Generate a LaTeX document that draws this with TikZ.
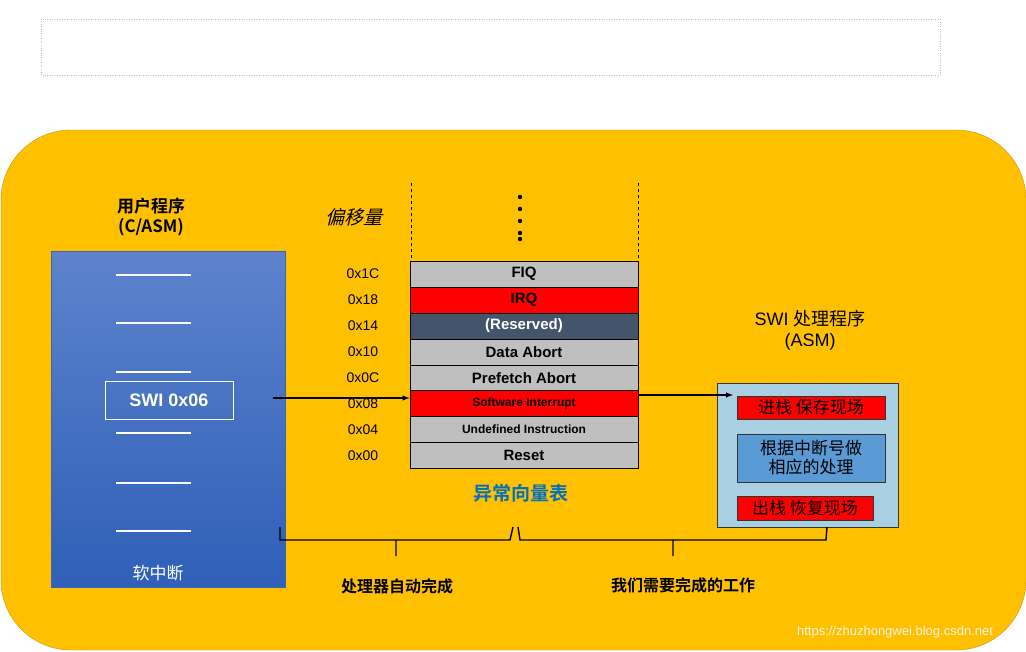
\documentclass[tikz,border=0pt]{standalone}
\usepackage{fontspec}
\setmainfont{Liberation Sans}
\newfontfamily\cjk{Noto Sans CJK SC}
\newfontfamily\cjkb{Noto Sans CJK SC Bold}
\begin{document}
\begin{tikzpicture}[x=1pt,y=-1pt,
  row/.style={draw=black,line width=0.8pt,minimum width=228pt,minimum height=25.9pt,inner sep=0,font=\bfseries\fontsize{15}{15}\selectfont},
  off/.style={font=\fontsize{14}{14}\selectfont},
  wl/.style={white,line width=2pt},
  inb/.style={draw=black!80,line width=0.8pt,inner sep=0,font=\cjk\fontsize{17}{19}\selectfont,align=center},
  brace/.style={line width=1.4pt}]
\useasboundingbox (0,0) rectangle (1026,651);
\fill[white] (0,0) rectangle (1026,651);
\draw[gray!50,dotted] (41,19) rectangle (940,75);
\draw[fill={rgb,255:red,255;green,192;blue,0},draw={rgb,255:red,200;green,150;blue,0}] (1,200) arc[start angle=180,end angle=270,radius=70] -- (956,130) arc[start angle=270,end angle=360,radius=70] -- (1026,580) arc[start angle=0,end angle=90,radius=70] -- (71,650) arc[start angle=90,end angle=180,radius=70] -- cycle;
% user program
\node[font=\cjkb\fontsize{17}{20}\selectfont,align=center] (ut) at (151,217) {用户程序\\(C/ASM)};
\shade[top color={rgb,255:red,93;green,131;blue,204},bottom color={rgb,255:red,47;green,95;blue,184}] (51,251) rectangle (285,587);
\node[draw={rgb,255:red,60;green,100;blue,180},minimum width=234pt,minimum height=336pt,inner sep=0] (ub) at (168,419) {};
\foreach \y in {275,323,372,433,483,531} \draw[wl] (116,\y) -- (191,\y);
\node[draw=white,line width=1pt,minimum width=128pt,minimum height=38pt,text=white,font=\bfseries\fontsize{18}{18}\selectfont] (swi) at (169,400) {SWI 0x06};
\node[text=white,font=\cjk\fontsize{17}{17}\selectfont] (soft) at (158,573) {软中断};
% table
\node[font=\cjk\itshape\fontsize{19}{19}\selectfont] (py) at (354,217) {\addfontfeature{FakeSlant=0.25}偏移量};
\draw[dashed,line width=0.8pt] (411,183) -- (411,261);
\draw[dashed,line width=0.8pt] (638,183) -- (638,261);
\foreach \y in {196,208,220,232,240} {}
\foreach \y in {197,209,221,233,239} \fill (520,\y) circle (2.2);
\def\rows{{"FIQ","IRQ","(Reserved)","Data Abort","Prefetch Abort","Software Interrupt","Undefined Instruction","Reset"}}
\node[row,fill=black!25] (r0) at (524,274) {FIQ};
\node[row,fill=red] (r1) at (524,300) {IRQ};
\node[row,fill={rgb,255:red,68;green,84;blue,106},text=white] (r2) at (524,326) {(Reserved)};
\node[row,fill=black!25] (r3) at (524,352) {Data Abort};
\node[row,fill=black!25] (r4) at (524,378) {Prefetch Abort};
\node[row,fill=red,font=\bfseries\fontsize{12}{12}\selectfont] (r5) at (524,403) {Software Interrupt};
\node[row,fill=black!25,font=\bfseries\fontsize{12}{12}\selectfont] (r6) at (524,429) {Undefined Instruction};
\node[row,fill=black!25] (r7) at (524,455) {Reset};
\node[off] at (363,274) {0x1C};
\node[off] at (363,300) {0x18};
\node[off] at (363,326) {0x14};
\node[off] at (363,352) {0x10};
\node[off] at (363,378) {0x0C};
\node[off] at (363,404) {0x08};
\node[off] at (363,430) {0x04};
\node[off] at (363,456) {0x00};
\node[text={rgb,255:red,0;green,112;blue,192},font=\cjkb\fontsize{19}{19}\selectfont] (vt) at (521,493) {异常向量表};
% handler
\node[font=\fontsize{18}{21}\selectfont,align=center] (ht) at (810,330) {SWI {\cjk 处理程序}\\(ASM)};
\node[draw=black!80,fill={rgb,255:red,169;green,207;blue,227},minimum width=181pt,minimum height=144pt,inner sep=0] (hb) at (807.5,455) {};
\node[inb,fill=red,minimum width=148pt,minimum height=23pt] (h1) at (811,407.5) {进栈 保存现场};
\node[inb,fill={rgb,255:red,91;green,155;blue,213},minimum width=148pt,minimum height=48pt] (h2) at (811,458) {根据中断号做\\相应的处理};
\node[inb,fill=red,minimum width=136pt,minimum height=24pt] (h3) at (805,508) {出栈 恢复现场};
\coordinate (a1) at (273,398);
\coordinate (a2) at (733,395);
\draw[-latex,line width=1.4pt] (a1) -- (r5.west|-a1);
\draw[-latex,line width=1.4pt] (r5.east|-a2) -- (a2);
% braces
\draw[brace] (280,527) -- (280,540) -- (396,540) -- (396,556) (396,540) -- (510,540) -- (513,527);
\draw[brace] (518,527) -- (520,540) -- (673,540) -- (673,556) (673,540) -- (826,540) -- (827,527);
\node[font=\cjkb\fontsize{16}{16}\selectfont] (l1) at (397,586) {处理器自动完成};
\node[font=\cjkb\fontsize{16}{16}\selectfont] (l2) at (683,585) {我们需要完成的工作};
\node[text=white!90!orange,font=\fontsize{13}{13}\selectfont] (wm) at (895,632) {https://zhuzhongwei.blog.csdn.net};
\end{tikzpicture}
\end{document}
